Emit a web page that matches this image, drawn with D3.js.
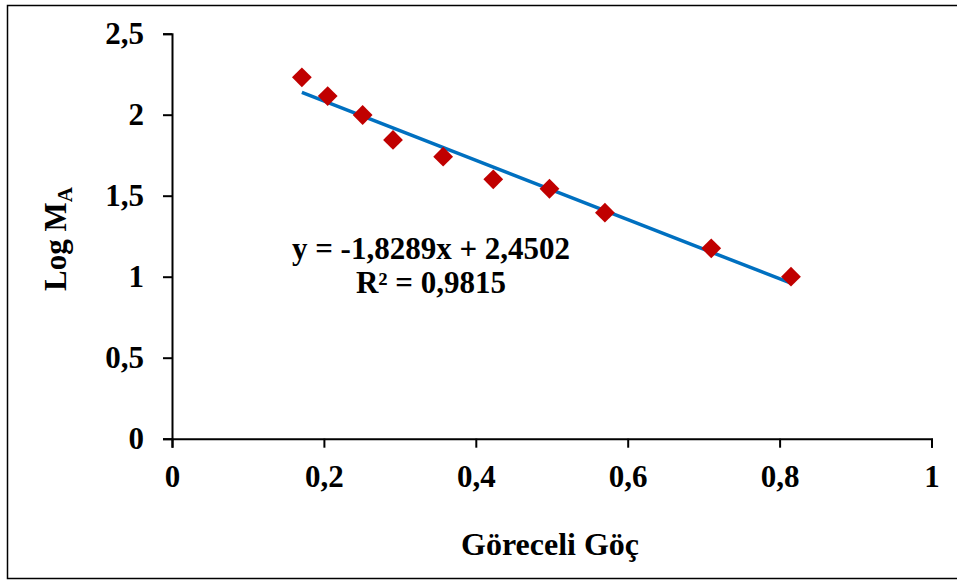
<!DOCTYPE html>
<html>
<head>
<meta charset="utf-8">
<title>Log MA - Göreceli Göç</title>
<script src="https://cdn.jsdelivr.net/npm/d3@7"></script>
<style>
body { margin: 0; background: #fff; }
svg text { font-family: "Liberation Serif", "Times New Roman", serif; font-weight: bold; fill: #000; }
</style>
</head>
<body>
<svg id="chart"></svg>
<script>
// data
var goc = [0.171, 0.205, 0.251, 0.291, 0.357, 0.423, 0.497, 0.570, 0.710, 0.815];
var logMA = [2.231, 2.115, 1.998, 1.844, 1.741, 1.601, 1.543, 1.395, 1.175, 1.000];
var xTicks = [0, 0.2, 0.4, 0.6, 0.8, 1];
var yTicks = [0, 0.5, 1, 1.5, 2, 2.5];
var slope = -1.8289, intercept = 2.4502;
var equationLines = ["y = -1,8289x + 2,4502", "R² = 0,9815"];

var W = 957, H = 581;
var comma = function(d) { return String(d).replace(".", ","); };

var svg = d3.select("#chart").attr("width", W).attr("height", H);

// outer frame (right side is cut off in the original)
svg.append("rect")
	.attr("x", 7.5).attr("y", 5.5)
	.attr("width", 960).attr("height", 573)
	.attr("fill", "none").attr("stroke", "#000").attr("stroke-width", 1.5);

var x = d3.scaleLinear().domain([0, 1]).range([172, 931.5]);
var y = d3.scaleLinear().domain([0, 2.5]).range([438.7, 33.7]);

var xAxis = svg.append("g")
	.attr("transform", "translate(0," + y(0) + ")")
	.call(d3.axisBottom(x).tickValues(xTicks).tickFormat(comma).tickSize(9).tickPadding(17));
var yAxis = svg.append("g")
	.attr("transform", "translate(" + x(0) + ",0)")
	.call(d3.axisLeft(y).tickValues(yTicks).tickFormat(comma).tickSize(9).tickPadding(19));

[xAxis, yAxis].forEach(function(a) {
	a.select(".domain").attr("stroke", "#000").attr("stroke-width", 2);
	a.selectAll(".tick line").attr("stroke", "#000").attr("stroke-width", 2);
	a.selectAll(".tick text").attr("font-size", 31);
	a.attr("font-family", null).attr("font-size", null);
});

// trend line
var line = d3.line().x(function(d) { return x(d); }).y(function(d) { return y(slope * d + intercept); });
svg.append("path")
	.attr("d", line([d3.min(goc), d3.max(goc)]))
	.attr("stroke", "#0070C0").attr("stroke-width", 3.5).attr("fill", "none");

// points
var diamond = d3.symbol().type(d3.symbolDiamond2).size(250);
svg.append("g").selectAll("path")
	.data(goc)
	.join("path")
	.attr("transform", function(d, i) { return "translate(" + x(d) + "," + y(logMA[i]) + ")"; })
	.attr("d", diamond)
	.attr("fill", "#C00000");

// equation
svg.append("g").selectAll("text")
	.data(equationLines)
	.join("text")
	.attr("x", 431).attr("y", function(d, i) { return 259 + i * 34; })
	.attr("text-anchor", "middle").attr("font-size", 31)
	.text(function(d) { return d; });

// axis titles
svg.append("text")
	.attr("x", 550).attr("y", 555)
	.attr("text-anchor", "middle").attr("font-size", 32)
	.text("Göreceli Göç");

var yl = svg.append("text")
	.attr("transform", "translate(66,239) rotate(-90)")
	.attr("text-anchor", "middle").attr("font-size", 31);
yl.append("tspan").text("Log M");
yl.append("tspan").attr("font-size", 21).attr("dy", 6).text("A");
</script>
</body>
</html>
